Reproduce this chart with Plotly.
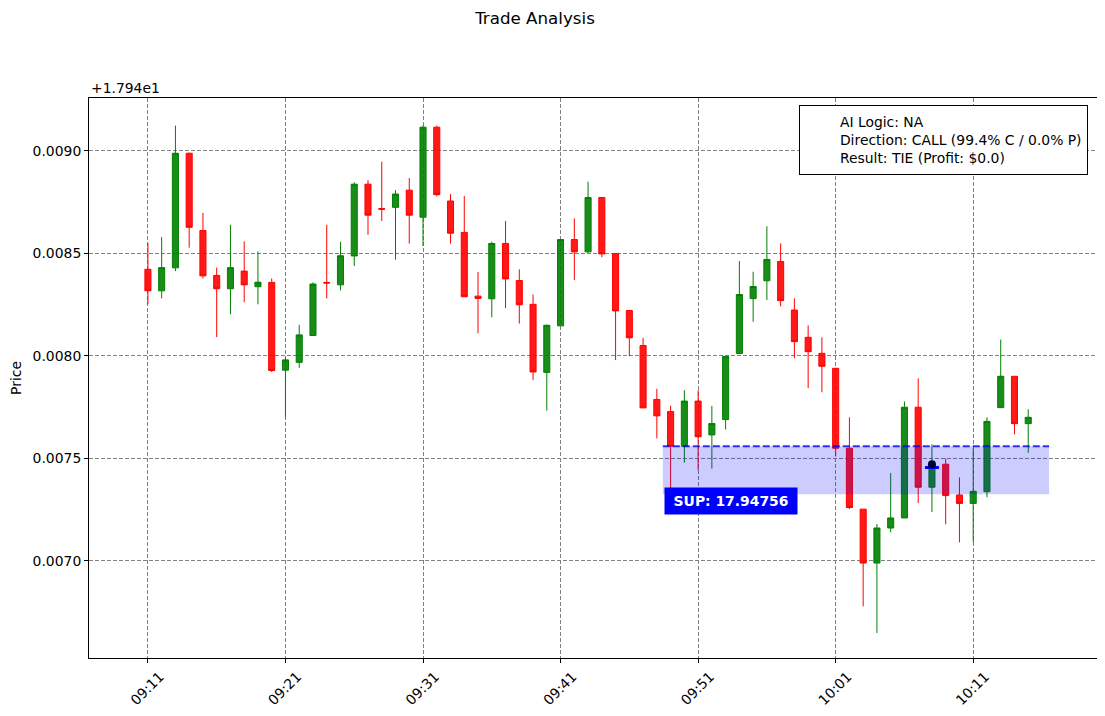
import pandas as pd
import plotly.graph_objects as go

# prices are shown as offsets from this base (matplotlib offset text "+1.794e1")
BASE = 17.94

opens = [0.008423, 0.008318, 0.008430, 0.008989, 0.008612, 0.008393, 0.008328, 0.008414,
         0.008338, 0.008359, 0.007931, 0.007969, 0.008100, 0.008359, 0.008347, 0.008488,
         0.008838, 0.008719, 0.008725, 0.008809, 0.008677, 0.009116, 0.008756, 0.008603,
         0.008292, 0.008279, 0.008549, 0.008368, 0.008252, 0.007920, 0.008147, 0.008568,
         0.008508, 0.008773, 0.008500, 0.008222, 0.008051, 0.007788, 0.007729, 0.007560,
         0.007780, 0.007615, 0.007690, 0.008012, 0.008280, 0.008367, 0.008461, 0.008224,
         0.008091, 0.008013, 0.007940, 0.007550, 0.007253, 0.006990, 0.007161, 0.007210,
         0.007750, 0.007360, 0.007472, 0.007322, 0.007281, 0.007338, 0.007748, 0.007901,
         0.007670]
highs = [0.008551, 0.008580, 0.009124, 0.008992, 0.008698, 0.008431, 0.008640, 0.008559,
         0.008510, 0.008378, 0.007995, 0.008152, 0.008359, 0.008640, 0.008557, 0.008847,
         0.008858, 0.008948, 0.008809, 0.008868, 0.009124, 0.009124, 0.008790, 0.008780,
         0.008410, 0.008557, 0.008659, 0.008423, 0.008300, 0.008152, 0.008568, 0.008671,
         0.008850, 0.008773, 0.008500, 0.008222, 0.008089, 0.007840, 0.007757, 0.007833,
         0.007833, 0.007757, 0.007998, 0.008463, 0.008411, 0.008633, 0.008549, 0.008281,
         0.008149, 0.008091, 0.007940, 0.007701, 0.007253, 0.007180, 0.007429, 0.007778,
         0.007891, 0.007570, 0.007500, 0.007408, 0.007550, 0.007701, 0.008080, 0.007901,
         0.007740]
lows = [0.008252, 0.008281, 0.008414, 0.008528, 0.008378, 0.008092, 0.008204, 0.008262,
        0.008252, 0.007922, 0.007704, 0.007942, 0.008100, 0.008281, 0.008320, 0.008439,
        0.008591, 0.008659, 0.008470, 0.008548, 0.008536, 0.008779, 0.008548, 0.008289,
        0.008111, 0.008189, 0.008233, 0.008158, 0.007882, 0.007733, 0.008147, 0.008370,
        0.008503, 0.008482, 0.007980, 0.007999, 0.007747, 0.007598, 0.007340, 0.007480,
        0.007443, 0.007451, 0.007641, 0.008012, 0.008167, 0.008273, 0.008242, 0.007989,
        0.007843, 0.007823, 0.007510, 0.007253, 0.006779, 0.006649, 0.007140, 0.007210,
        0.007282, 0.007239, 0.007179, 0.007091, 0.007091, 0.007311, 0.007748, 0.007618,
        0.007528]
closes = [0.008318, 0.008431, 0.008989, 0.008628, 0.008391, 0.008328, 0.008431, 0.008347,
          0.008360, 0.007929, 0.007981, 0.008103, 0.008351, 0.008356, 0.008489, 0.008838,
          0.008687, 0.008716, 0.008790, 0.008687, 0.009116, 0.008787, 0.008599, 0.008289,
          0.008281, 0.008549, 0.008376, 0.008250, 0.007922, 0.008150, 0.008568, 0.008508,
          0.008773, 0.008498, 0.008220, 0.008089, 0.007747, 0.007708, 0.007560, 0.007780,
          0.007606, 0.007671, 0.007998, 0.008300, 0.008339, 0.008471, 0.008270, 0.008070,
          0.008021, 0.007950, 0.007550, 0.007261, 0.006990, 0.007161, 0.007210, 0.007750,
          0.007360, 0.007469, 0.007319, 0.007281, 0.007340, 0.007681, 0.007901, 0.007670,
          0.007701]

times = pd.date_range("2024-01-01 09:11", periods=len(opens), freq="min")

# support zone
sup_level = 17.94756
zone_low = 17.947325
zone_start = "2024-01-01 09:48:26"
zone_end = "2024-01-01 10:16:31"

# entry point
entry_time = "2024-01-01 10:08"
entry_price = 17.947472
entry_line_price = 17.947456

info_lines = ["AI Logic: NA",
              "Direction: CALL (99.4% C / 0.0% P)",
              "Result: TIE (Profit: $0.0)"]

ytick_vals = [0.0070, 0.0075, 0.0080, 0.0085, 0.0090]

FONT = "DejaVu Sans"
# the page body has an 8px margin, so the figure is drawn 8px smaller
W, H = 1097, 708

fig = go.Figure()

fig.add_trace(go.Candlestick(
    x=times,
    open=[BASE + v for v in opens],
    high=[BASE + v for v in highs],
    low=[BASE + v for v in lows],
    close=[BASE + v for v in closes],
    increasing=dict(line=dict(color="green", width=1), fillcolor="rgba(0,128,0,0.9)"),
    decreasing=dict(line=dict(color="red", width=1), fillcolor="rgba(255,0,0,0.9)"),
    whiskerwidth=0,
    showlegend=False,
))

fig.add_trace(go.Scatter(
    x=[entry_time], y=[entry_line_price], mode="markers",
    marker=dict(symbol="line-ew", size=10, line=dict(color="blue", width=3)),
    showlegend=False, hoverinfo="skip",
))
fig.add_trace(go.Scatter(
    x=[entry_time], y=[entry_price], mode="markers",
    marker=dict(symbol="circle", size=8, color="black"),
    showlegend=False,
))

# text-only legend entry
fig.add_trace(go.Scatter(x=[None], y=[None], mode="markers",
                         marker=dict(color="rgba(0,0,0,0)", size=1,
                                     line=dict(width=0)),
                         name="<br>".join(info_lines)))

fig.add_shape(type="rect", x0=zone_start, x1=zone_end, y0=zone_low, y1=sup_level,
              fillcolor="rgba(0,0,255,0.2)", line_width=0, layer="above")
fig.add_shape(type="line", x0=zone_start, x1=zone_end, y0=sup_level, y1=sup_level,
              line=dict(color="rgba(0,0,255,0.8)", width=2, dash="7px,3px"), layer="above")

fig.add_annotation(x=zone_start, y=17.947285, xanchor="left", yanchor="middle",
                   text=f"<b>SUP: {sup_level}</b>", showarrow=False,
                   font=dict(family=FONT, size=13.9, color="white"),
                   bgcolor="blue", width=128, height=22, borderpad=2, xshift=1, yshift=2)

fig.add_annotation(xref="paper", yref="paper", x=0, y=1, xanchor="left", yanchor="bottom",
                   text="+1.794e1", showarrow=False,
                   font=dict(family=FONT, size=13.9, color="black"))

fig.update_layout(
    width=W, height=H,
    margin=dict(l=80, r=7, t=90, b=58),
    paper_bgcolor="white", plot_bgcolor="white",
    font=dict(family=FONT, size=13.9, color="black"),
    title=dict(text="Trade Analysis", x=(535 - 8) / W, xanchor="center",
               y=1 - 10 / H, yanchor="middle", font=dict(size=16.7)),
    boxgap=0.37,
    legend=dict(x=0.991, xanchor="right", y=0.9875, yanchor="top",
                bgcolor="white", bordercolor="black", borderwidth=1,
                font=dict(size=13.9), tracegroupgap=0),
    hovermode="x",
)

fig.update_xaxes(
    type="date",
    range=["2024-01-01 09:06:43", "2024-01-01 10:20:00"],
    rangeslider_visible=False,
    tick0="2024-01-01 09:11", dtick=600000, tickformat="%H:%M",
    tickangle=-45, ticklabelshift=12,
    showgrid=True, gridcolor="grey", griddash="4px,2px", gridwidth=1,
    showline=True, mirror=True, linecolor="black", linewidth=1,
    ticks="outside", ticklen=4, tickcolor="black",
)
fig.update_yaxes(
    range=[BASE + 0.0065268, BASE + 0.0092585],
    tickvals=[BASE + v for v in ytick_vals],
    ticktext=[f"{v:.4f}" for v in ytick_vals],
    title=dict(text="Price", standoff=8, font=dict(size=13.9)),
    showgrid=True, gridcolor="grey", griddash="4px,2px", gridwidth=1,
    showline=True, mirror=True, linecolor="black", linewidth=1,
    ticks="outside", ticklen=4, tickcolor="black", zeroline=False,
)

fig.write_html("out.html")
